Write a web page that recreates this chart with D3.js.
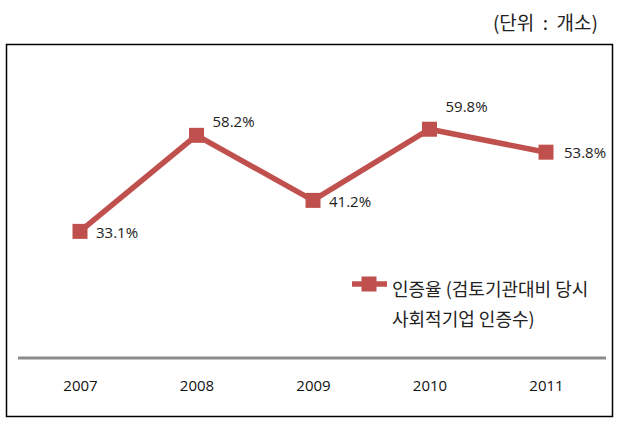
<!DOCTYPE html>
<html><head><meta charset="utf-8">
<script src="https://cdn.jsdelivr.net/npm/d3@7/dist/d3.min.js"></script>
<style>body{margin:0;background:#fff}svg{display:block}</style>
</head><body>
<svg id="c" width="627" height="425"></svg>
<script>
const years = ["2007","2008","2009","2010","2011"];
const rates = [33.1, 58.2, 41.2, 59.8, 53.8];
const labels = ["33.1%","58.2%","41.2%","59.8%","53.8%"];
const unitText = "(단위 : 개소)";
const legendLines = ["인증율 (검토기관대비 당시","사회적기업 인증수)"];

const svg = d3.select("#c");
const color = "#C0504D";
const font = "'Noto Sans CJK KR','Noto Sans',sans-serif";
const numFont = "'Open Sans','Noto Sans',sans-serif";

svg.append("rect").attr("x",6.5).attr("y",44.5).attr("width",606).attr("height",372)
  .attr("fill","#fff").attr("stroke","#000").attr("stroke-width",1.5);

svg.append("text").attr("x",598).attr("y",30).attr("text-anchor","end")
  .attr("font-family",font).attr("font-size",19).attr("fill","#222")
  .attr("xml:space","preserve").style("white-space","pre").text("(단위  :  개소)");

const x = d3.scalePoint().domain(years).range([80,546]);
const y = d3.scaleLinear().domain([0,70]).range([358,90.2]);

svg.append("line").attr("x1",18).attr("x2",606).attr("y1",y(0)).attr("y2",y(0))
  .attr("stroke","#8c8c8c").attr("stroke-width",3);

const xAxis = svg.append("g").attr("transform",`translate(0,${y(0)})`)
  .call(d3.axisBottom(x).tickSize(0).tickPadding(22));
xAxis.select(".domain").remove();
xAxis.selectAll("text").attr("font-family",numFont)
  .attr("font-size",15).attr("fill","#111");

const line = d3.line().x((d,i)=>x(years[i])).y(d=>y(d));
svg.append("path").datum(rates).attr("d",line).attr("fill","none")
  .attr("stroke",color).attr("stroke-width",5.5).attr("stroke-linejoin","miter");

const ms = 15;
svg.selectAll("rect.m").data(rates).join("rect").attr("class","m")
  .attr("x",(d,i)=>x(years[i])-ms/2).attr("y",d=>y(d)-ms/2)
  .attr("width",ms).attr("height",ms).attr("fill",color);

const offs = [[16,6.5],[16,-8.5],[16,6.5],[16,-17],[18,6]];
svg.selectAll("text.lab").data(rates).join("text").attr("class","lab")
  .attr("x",(d,i)=>x(years[i])+offs[i][0]).attr("y",(d,i)=>y(d)+offs[i][1])
  .attr("font-family",numFont).attr("font-size",15)
  .attr("fill","#222").text((d,i)=>labels[i]);

// legend
svg.append("line").attr("x1",352).attr("x2",387).attr("y1",284).attr("y2",284)
  .attr("stroke",color).attr("stroke-width",5.5);
svg.append("rect").attr("x",369-7.5).attr("y",284-7.5).attr("width",15).attr("height",15).attr("fill",color);
svg.selectAll("text.leg").data(legendLines).join("text").attr("class","leg")
  .attr("x",392).attr("y",(d,i)=>296+i*30)
  .attr("font-family",font).attr("font-size",18).attr("fill","#222").text(d=>d);
</script>
</body></html>
